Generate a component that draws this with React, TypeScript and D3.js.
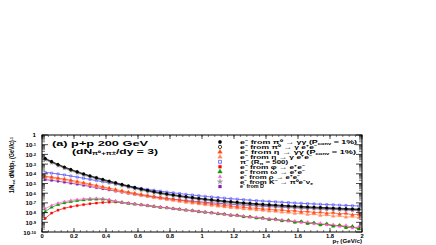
import React from "react";
import * as d3 from "d3";

// bin centres, p_T in GeV/c
const pT = [0.02, 0.06, 0.10, 0.14, 0.18, 0.22, 0.26, 0.30, 0.34, 0.38, 0.42, 0.46, 0.50, 0.54, 0.58, 0.62, 0.66, 0.70, 0.74, 0.78,
  0.82, 0.86, 0.90, 0.94, 0.98, 1.02, 1.06, 1.10, 1.14, 1.18, 1.22, 1.26, 1.30, 1.34, 1.38, 1.42, 1.46, 1.50, 1.54, 1.58,
  1.62, 1.66, 1.70, 1.74, 1.78, 1.82, 1.86, 1.90, 1.94, 1.98];

// log10 of 1/Nevt dN/dpT
const pi0GG = [-2.40, -2.72, -3.02, -3.29, -3.54, -3.77, -3.99, -4.19, -4.38, -4.56, -4.74, -4.91, -5.08, -5.24, -5.40, -5.55, -5.69, -5.82, -5.94, -6.05,
  -6.15, -6.25, -6.34, -6.43, -6.51, -6.59, -6.66, -6.73, -6.80, -6.86, -6.92, -6.98, -7.03, -7.08, -7.13, -7.17, -7.21, -7.25, -7.29, -7.33,
  -7.36, -7.40, -7.43, -7.46, -7.49, -7.52, -7.55, -7.58, -7.61, -7.64];
const pi0Dalitz = [-2.47, -2.79, -3.09, -3.36, -3.61, -3.84, -4.06, -4.26, -4.45, -4.63, -4.81, -4.98, -5.15, -5.31, -5.47, -5.62, -5.76, -5.89, -6.01, -6.12,
  -6.22, -6.32, -6.41, -6.50, -6.58, -6.66, -6.73, -6.80, -6.87, -6.93, -6.99, -7.05, -7.10, -7.15, -7.20, -7.24, -7.28, -7.32, -7.36, -7.40,
  -7.43, -7.47, -7.50, -7.53, -7.56, -7.59, -7.62, -7.65, -7.68, -7.71];
const etaGG = [-4.25, -4.33, -4.43, -4.54, -4.66, -4.79, -4.92, -5.06, -5.20, -5.34, -5.48, -5.62, -5.75, -5.88, -6.00, -6.12, -6.23, -6.34, -6.44, -6.54,
  -6.63, -6.72, -6.81, -6.89, -6.97, -7.05, -7.12, -7.19, -7.26, -7.32, -7.40, -7.43, -7.52, -7.54, -7.63, -7.64, -7.73, -7.72, -7.82, -7.81,
  -7.91, -7.88, -7.99, -7.97, -8.07, -8.02, -8.13, -8.08, -8.22, -8.18];
const etaDalitz = [-4.37, -4.45, -4.55, -4.66, -4.78, -4.91, -5.04, -5.18, -5.32, -5.46, -5.60, -5.74, -5.87, -6.00, -6.12, -6.24, -6.35, -6.46, -6.57, -6.67,
  -6.76, -6.86, -6.95, -7.03, -7.11, -7.20, -7.26, -7.35, -7.41, -7.49, -7.54, -7.62, -7.66, -7.74, -7.77, -7.86, -7.88, -7.97, -7.98, -8.09,
  -8.07, -8.20, -8.15, -8.30, -8.24, -8.38, -8.32, -8.47, -8.40, -8.52];
const pionMinus = [-3.85, -3.93, -4.02, -4.12, -4.23, -4.34, -4.46, -4.58, -4.70, -4.82, -4.94, -5.06, -5.18, -5.29, -5.40, -5.51, -5.61, -5.70, -5.79, -5.88,
  -5.96, -6.04, -6.12, -6.19, -6.26, -6.33, -6.39, -6.45, -6.51, -6.57, -6.62, -6.67, -6.72, -6.77, -6.81, -6.85, -6.89, -6.93, -6.97, -7.01,
  -7.04, -7.08, -7.11, -7.14, -7.17, -7.20, -7.23, -7.26, -7.29, -7.32];
const phiEE = [-8.60, -8.05, -7.75, -7.55, -7.40, -7.28, -7.18, -7.09, -7.02, -6.96, -6.92, -6.91, -6.95, -7.02, -7.11, -7.19, -7.27, -7.35, -7.43, -7.50,
  -7.58, -7.65, -7.73, -7.80, -7.87, -7.96, -8.01, -8.11, -8.15, -8.27, -8.28, -8.40, -8.42, -8.55, -8.55, -8.68, -8.70, -8.82, -8.83, -8.98,
  -8.95, -9.10, -9.08, -9.25, -9.20, -9.38, -9.33, -9.52, -9.48, -9.65];
const omegaEE = [-7.90, -7.45, -7.18, -7.00, -6.87, -6.77, -6.70, -6.65, -6.62, -6.63, -6.70, -6.84, -6.96, -7.06, -7.14, -7.21, -7.30, -7.37, -7.46, -7.51,
  -7.61, -7.66, -7.76, -7.80, -7.92, -7.95, -8.04, -8.12, -8.17, -8.27, -8.30, -8.42, -8.45, -8.56, -8.58, -8.71, -8.68, -8.85, -8.80, -9.00,
  -8.92, -9.12, -9.05, -9.28, -9.15, -9.40, -9.30, -9.55, -9.42, -9.70];
const rhoEE = [-7.60, -7.25, -7.02, -6.86, -6.74, -6.65, -6.58, -6.54, -6.52, -6.55, -6.66, -6.82, -6.95, -7.04, -7.12, -7.20, -7.28, -7.36, -7.44, -7.52,
  -7.59, -7.67, -7.74, -7.81, -7.89, -7.93, -8.06, -8.08, -8.20, -8.22, -8.35, -8.34, -8.49, -8.47, -8.63, -8.60, -8.77, -8.72, -8.90, -8.84,
  -9.05, -8.95, -9.18, -9.08, -9.30, -9.20, -9.45, -9.30, -9.60, -9.45];
const kaonKe3 = [-2.55, -2.87, -3.17, -3.44, -3.69, -3.92, -4.14, -4.34, -4.53, -4.71, -4.89, -5.06, -5.23, -5.39, -5.55, -5.70, -5.84, -5.97, -6.09, -6.20,
  -6.30, -6.40, -6.49, -6.58, -6.66, -6.74, -6.81, -6.88, -6.95, -7.01, -7.07, -7.13, -7.18, -7.23, -7.28, -7.32, -7.36, -7.40, -7.44, -7.48,
  -7.51, -7.55, -7.58, -7.61, -7.64, -7.67, -7.70, -7.73, -7.76, -7.79];
const dbarDecay = [-4.60, -4.68, -4.77, -4.87, -4.97, -5.08, -5.19, -5.31, -5.43, -5.55, -5.67, -5.79, -5.90, -6.01, -6.11, -6.21, -6.30, -6.39, -6.47, -6.55,
  -6.62, -6.69, -6.76, -6.82, -6.88, -6.94, -6.99, -7.04, -7.09, -7.14, -7.18, -7.22, -7.26, -7.30, -7.34, -7.38, -7.41, -7.44, -7.48, -7.51,
  -7.54, -7.57, -7.60, -7.62, -7.65, -7.68, -7.70, -7.73, -7.75, -7.78];

const xTicks = [0, 0.2, 0.4, 0.6, 0.8, 1, 1.2, 1.4, 1.6, 1.8, 2];
const xTickLabels = ["0", "0.2", "0.4", "0.6", "0.8", "1", "1.2", "1.4", "1.6", "1.8", "2"];
const yDecades = [0, -1, -2, -3, -4, -5, -6, -7, -8, -9, -10];

type Seg = [string, number]; // 0 normal, 1 sup, -1 sub

const legendLabels: Seg[][] = [
  [["e⁻ from π⁰ → γγ (P", 0], ["conv", -1], [" = 1%)", 0]],
  [["e⁻ from π⁰ → γ e⁺e⁻", 0]],
  [["e⁻ from η → γγ (P", 0], ["conv", -1], [" = 1%)", 0]],
  [["e⁻ from η → γ e⁺e⁻", 0]],
  [["π⁻ (R", 0], ["π", -1], [" = 500)", 0]],
  [["e⁻ from φ → e⁺e⁻", 0]],
  [["e⁻ from ω → e⁺e⁻", 0]],
  [["e⁻ from ρ → e⁺e⁻", 0]],
  [["e⁻ from K⁻ → π⁰e⁻ν", 0], ["e", -1]],
  [["e⁻ from D̄", 0]],
];
const legendWidths = [117, 77, 116, 72, 48, 65, 65, 60, 73, 24];

const series = [
  { vals: dbarDecay, color: "#7a1fc0", shape: d3.symbolSquare, fill: true, size: 4.5 },
  { vals: etaDalitz, color: "#ff8a5c", shape: d3.symbolTriangle, fill: true, size: 5.5 },
  { vals: etaGG, color: "#ff4a1a", shape: d3.symbolTriangle, fill: true, size: 5.5 },
  { vals: pionMinus, color: "#3c3cff", shape: d3.symbolSquare, fill: false, size: 4.5 },
  { vals: kaonKe3, color: "#9a9a9a", shape: d3.symbolStar, fill: true, size: 5.5 },
  { vals: pi0Dalitz, color: "#000000", shape: d3.symbolCircle, fill: false, size: 4.5 },
  { vals: pi0GG, color: "#000000", shape: d3.symbolCircle, fill: true, size: 5 },
  { vals: phiEE, color: "#ff0000", shape: d3.symbolSquare, fill: true, size: 4.5 },
  { vals: omegaEE, color: "#00a000", shape: d3.symbolTriangle, fill: true, size: 5.5 },
  { vals: rhoEE, color: "#ff5fcf", shape: d3.symbolTriangle2, fill: true, size: 5.5 },
];
// legend order -> series index
const legendOrder = [6, 5, 2, 1, 3, 7, 8, 9, 4, 0];

const L = 42, R = 362, T = 135, B = 232;
const FONT = "'Liberation Sans', Arial, sans-serif";

function Rich({ segs, ...rest }: any) {
  return (
    <text {...rest}>
      {segs.map(([t, m]: Seg, i: number) => (
        <tspan key={i} baselineShift={m > 0 ? "35%" : m < 0 ? "-20%" : undefined} fontSize={m ? "65%" : undefined}>{t}</tspan>
      ))}
    </text>
  );
}

export default function App() {
  const x = d3.scaleLinear().domain([0, 2]).range([L, R]);
  const y = d3.scaleLog().domain([1e-10, 1]).range([B, T]);
  const line = d3.line<number>().x((_, i) => x(pT[i])).y((v) => y(Math.pow(10, v)));

  const minorX = d3.range(0, 2.0001, 0.04);
  const minorY: number[] = [];
  for (let d = -10; d < 0; d++) for (let k = 2; k <= 9; k++) minorY.push(k * Math.pow(10, d));

  return (
    <div style={{ position: "absolute", left: 0, top: 0 }}>
      <svg width={436} height={245} style={{ display: "block", background: "#fff" }} fontFamily={FONT}>
        <defs>
          <clipPath id="plot"><rect x={L} y={T} width={R - L} height={B - T} /></clipPath>
        </defs>
        <g clipPath="url(#plot)">
          {series.map((s, si) => {
            const path = d3.symbol().type(s.shape).size(s.size)() as string;
            return (
              <g key={si}>
                <path d={line(s.vals) as string} fill="none" stroke={s.color} strokeWidth={0.9} opacity={0.8} />
                {s.vals.map((v, i) => (
                  <path key={i} d={path} transform={`translate(${x(pT[i])},${y(Math.pow(10, v))})`}
                    fill={s.fill ? s.color : "none"} stroke={s.color} strokeWidth={s.fill ? 0.3 : 0.5} />
                ))}
              </g>
            );
          })}
        </g>

        {/* frame and ticks */}
        <rect x={L} y={T} width={R - L} height={B - T} fill="none" stroke="#000" strokeWidth={1} />
        {minorX.map((t, i) => (
          <g key={"mx" + i} stroke="#000" strokeWidth={0.5}>
            <line x1={x(t)} x2={x(t)} y1={B} y2={B - 2} />
            <line x1={x(t)} x2={x(t)} y1={T} y2={T + 2} />
          </g>
        ))}
        {xTicks.map((t, i) => (
          <g key={"X" + i} stroke="#000" strokeWidth={0.7}>
            <line x1={x(t)} x2={x(t)} y1={B} y2={B - 4} />
            <line x1={x(t)} x2={x(t)} y1={T} y2={T + 4} />
          </g>
        ))}
        {minorY.map((t, i) => (
          <g key={"my" + i} stroke="#000" strokeWidth={0.5}>
            <line x1={L} x2={L + 3} y1={y(t)} y2={y(t)} />
            <line x1={R} x2={R - 3} y1={y(t)} y2={y(t)} />
          </g>
        ))}
        {yDecades.map((d, i) => (
          <g key={"Y" + i} stroke="#000" strokeWidth={0.7}>
            <line x1={L} x2={L + 6} y1={y(Math.pow(10, d))} y2={y(Math.pow(10, d))} />
            <line x1={R} x2={R - 6} y1={y(Math.pow(10, d))} y2={y(Math.pow(10, d))} />
          </g>
        ))}

        {/* tick labels */}
        {xTicks.map((t, i) => (
          <text key={"xl" + i} x={x(t)} y={237.5} fontSize={5.8} fontWeight="bold" textAnchor="middle">{xTickLabels[i]}</text>
        ))}
        {yDecades.map((d, i) => (
          d === 0
            ? <text key={"yl" + i} x={36} y={y(1) + 2} fontSize={6.2} fontWeight="bold" textAnchor="end">1</text>
            : <Rich key={"yl" + i} x={36} y={y(Math.pow(10, d)) + 2.5} fontSize={6.2} fontWeight="bold" textAnchor="end"
              segs={[["10", 0], [String(d), 1]]} />
        ))}

        {/* axis titles */}
        <Rich x={362} y={242.5} fontSize={6.2} fontWeight="bold" textAnchor="end"
          segs={[["p", 0], ["T", -1], [" (GeV/c)", 0]]} />
        <Rich transform="translate(14,137) rotate(-90)" fontSize={6.5} fontWeight="bold" textAnchor="end"
          textLength={56} lengthAdjust="spacingAndGlyphs"
          segs={[["1/N", 0], ["evt", -1], [" dN/dp", 0], ["T", -1], [" (GeV/c)", 0], ["-1", 1]]} />

        {/* annotation */}
        <text x={52} y={145.5} fontSize={8} fontWeight="bold" textLength={96} lengthAdjust="spacingAndGlyphs">(a) p+p 200 GeV</text>
        <Rich x={72} y={153.8} fontSize={8} fontWeight="bold" textLength={86} lengthAdjust="spacingAndGlyphs"
          segs={[["(dN", 0], ["π⁰+π±", -1], ["/dy = 3)", 0]]} />

        {/* legend */}
        {legendOrder.map((si, r) => {
          const s = series[si];
          const cy = 142 + r * 4.95;
          const path = d3.symbol().type(s.shape).size(s.size + 4)() as string;
          return (
            <g key={"lg" + r}>
              <path d={path} transform={`translate(220,${cy})`} fill={s.fill ? s.color : "none"} stroke={s.color} strokeWidth={s.fill ? 0.3 : 0.7} />
              <Rich x={240} y={cy + 1.9} fontSize={5.4} fontWeight="bold" textLength={legendWidths[r]} lengthAdjust="spacingAndGlyphs"
                segs={legendLabels[r]} />
            </g>
          );
        })}
      </svg>
    </div>
  );
}
